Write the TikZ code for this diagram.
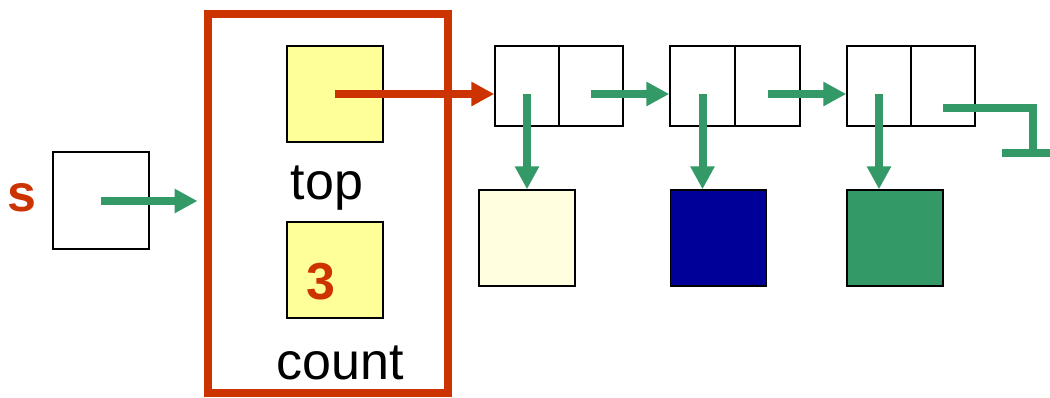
\documentclass[tikz,border=0pt]{standalone}
\usepackage{fontspec}
\setmainfont{Liberation Sans}
\usetikzlibrary{arrows.meta,calc}
\definecolor{pgreen}{HTML}{339966}
\definecolor{pred}{HTML}{CC3300}
\definecolor{pyellow}{HTML}{FFFF99}
\definecolor{plight}{HTML}{FFFFE0}
\definecolor{pblue}{HTML}{000099}
\begin{document}
\begin{tikzpicture}[x=1pt,y=-1pt,
  box/.style={draw=black,line width=1.4pt,inner sep=0pt,minimum width=96pt,minimum height=96pt},
  cell/.style={draw=black,line width=1.4pt,inner sep=0pt,minimum height=80pt},
  garrow/.style={draw=pgreen,line width=8pt,-{Triangle[length=23pt,width=23pt]}},
  rarrow/.style={draw=pred,line width=8pt,-{Triangle[length=23pt,width=23pt]}},
  lbl/.style={inner sep=0pt,font=\fontsize{52}{60}\selectfont},
  blbl/.style={inner sep=0pt,text=pred,font=\fontsize{52}{60}\selectfont\bfseries}]
\useasboundingbox (0,0) rectangle (1050,397);
% s pointer
\node[blbl] (s) at (22,198) {s};
\node[box,minimum height=97pt] (sbox) at (101,200.5) {};
% stack frame
\node[draw=pred,line width=8pt,inner sep=0pt,minimum width=240pt,minimum height=379pt] (frame) at (327.5,203.5) {};
\node[box,fill=pyellow] (top) at (335,94) {};
\node[lbl] (toplbl) at (327,188) {top};
\node[box,fill=pyellow] (count) at (335,270) {};
\node[blbl] (three) at (321,282) {3};
\node[lbl] (countlbl) at (340,363) {count};
% list cells
\node[cell,minimum width=64pt] (n1a) at (527,86) {};
\node[cell,minimum width=64pt] (n1b) at (591,86) {};
\node[cell,minimum width=65pt] (n2a) at (702.5,86) {};
\node[cell,minimum width=65pt] (n2b) at (767.5,86) {};
\node[cell,minimum width=64pt] (n3a) at (879,86) {};
\node[cell,minimum width=64pt] (n3b) at (943,86) {};
% data boxes
\node[box,fill=plight] (d1) at (527,238) {};
\node[box,fill=pblue] (d2) at (718.5,238) {};
\node[box,fill=pgreen] (d3) at (895,238) {};
% connectors
\coordinate (sstart) at ($(sbox.center)+(0,0.5)$);
\draw[garrow] (sstart) -- ($(sstart -| frame.west)+(-6,0)$);
\draw[rarrow] (top.center) -- (top.center -| n1a.west);
\draw[garrow] ($(n1a.center)+(0,8)$) -- (n1a.center |- d1.north);
\draw[garrow] ($(n2a.center)+(0,8)$) -- (n2a.center |- d2.north);
\draw[garrow] ($(n3a.center)+(0,8)$) -- (n3a.center |- d3.north);
\draw[garrow] ($(n1b.center)+(0,8)$) -- ($(n2a.west)+(0,8)$);
\draw[garrow] ($(n2b.center)+(0,8)$) -- ($(n3a.west)+(0,8)$);
% null ground
\coordinate (g1) at ($(n3b.center)+(0,22)$);
\coordinate (g2) at (1033,108);
\coordinate (g3) at (1033,153);
\coordinate (g4) at (1002,153);
\coordinate (g5) at (1050,153);
\draw[pgreen,line width=8pt,line join=miter] (g1) -- (g2) -- (g3);
\draw[pgreen,line width=8pt] (g4) -- (g5);
\end{tikzpicture}
\end{document}
